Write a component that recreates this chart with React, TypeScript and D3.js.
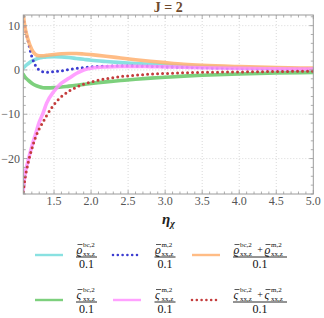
import * as d3 from "d3";
import React from "react";

const W = 324;
const H = 318;
const plot = { left: 23.3, right: 313.3, top: 15, bottom: 194 };

// sample points along eta_chi
const etaValues = [1.085, 1.1, 1.15, 1.2, 1.25, 1.3, 1.35, 1.4, 1.5, 1.6, 1.7, 1.8, 1.9, 2.0, 2.2, 2.4, 2.6, 2.8, 3.0, 3.25, 3.5, 4.0, 4.5, 5.0];

const rhoBc = [0.4, 0.7, 1.4, 2.0, 2.4, 2.7, 2.85, 2.95, 3.0, 2.95, 2.8, 2.6, 2.4, 2.2, 1.9, 1.65, 1.45, 1.25, 1.1, 0.9, 0.75, 0.5, 0.35, 0.25];
const rhoM = [12.0, 10.3, 6.5, 3.0, 1.0, 0.0, -0.4, -0.5, -0.4, -0.2, 0.1, 0.35, 0.55, 0.7, 0.85, 0.9, 0.85, 0.8, 0.7, 0.6, 0.5, 0.35, 0.25, 0.2];
const rhoSum = [12.5, 10.5, 6.8, 4.6, 3.5, 3.2, 3.2, 3.3, 3.5, 3.65, 3.7, 3.7, 3.6, 3.45, 3.1, 2.7, 2.3, 1.95, 1.65, 1.3, 1.05, 0.75, 0.55, 0.4];
const sigBc = [-1.0, -1.4, -2.3, -3.0, -3.5, -3.8, -4.0, -4.05, -4.0, -3.85, -3.65, -3.45, -3.25, -3.05, -2.7, -2.4, -2.1, -1.85, -1.65, -1.4, -1.2, -0.9, -0.7, -0.55];
const sigM = [-27.0, -24.5, -20.5, -17.3, -14.5, -11.8, -9.8, -7.5, -4.8, -3.0, -1.9, -0.8, 0.0, 0.4, 0.7, 0.8, 0.8, 0.75, 0.7, 0.6, 0.5, 0.35, 0.25, 0.2];
const sigSum = [-27.5, -25.5, -21.0, -17.8, -15.2, -13.3, -11.8, -10.3, -7.8, -6.0, -4.8, -3.9, -3.2, -2.7, -2.0, -1.5, -1.2, -0.95, -0.8, -0.65, -0.55, -0.45, -0.35, -0.3];

const xTicks = [1.5, 2.0, 2.5, 3.0, 3.5, 4.0, 4.5, 5.0];
const yTicks = [10, 0, -10, -20];

const series = [
  { values: rhoBc, color: "#74dcdc", dotted: false, sym: "ϱ", sup: ["bc,2"] },
  { values: rhoM, color: "#3c3cd0", dotted: true, sym: "ϱ", sup: ["m,2"] },
  { values: rhoSum, color: "#ffb070", dotted: false, sym: "ϱ", sup: ["bc,2", "m,2"] },
  { values: sigBc, color: "#66c866", dotted: false, sym: "ς", sup: ["bc,2"] },
  { values: sigM, color: "#ff90ff", dotted: false, sym: "ς", sup: ["m,2"] },
  { values: sigSum, color: "#c43c3c", dotted: true, sym: "ς", sup: ["bc,2", "m,2"] },
];

const serif = { fontFamily: "Liberation Serif, serif" };

const x = d3.scaleLinear().domain([1.085, 5.0]).range([plot.left, plot.right]);
const y = d3.scaleLinear().domain([-28, 12.4]).range([plot.bottom, plot.top]);

const Term = ({ x0, base, sym, sup }: { x0: number; base: number; sym: string; sup: string }) => (
  <g style={serif} fill="#111">
    <text x={x0} y={base} fontSize={11.5} fontStyle="italic" style={serif}>{sym}</text>
    <line x1={x0 + 1} x2={x0 + 6} y1={base - 9} y2={base - 9} stroke="#111" strokeWidth={0.7} />
    <text x={x0 + 6.5} y={base - 6.5} fontSize={7} style={serif}>{sup}</text>
    <text x={x0 + 6.5} y={base + 2.3} fontSize={7} style={serif}>xx,z</text>
  </g>
);

const Label = ({ cx, barY, sym, sup }: { cx: number; barY: number; sym: string; sup: string[] }) => {
  const single = sup.length === 1;
  const half = single ? 10.5 : 27;
  const base = barY - 3.5;
  return (
    <g>
      {single ? (
        <Term x0={cx - 10} base={base} sym={sym} sup={sup[0]} />
      ) : (
        <g>
          <Term x0={cx - 26.5} base={base} sym={sym} sup={sup[0]} />
          <text x={cx} y={base - 1} fontSize={10} style={serif} textAnchor="middle" fill="#111">+</text>
          <Term x0={cx + 4.5} base={base} sym={sym} sup={sup[1]} />
        </g>
      )}
      <line x1={cx - half} x2={cx + half} y1={barY} y2={barY} stroke="#111" strokeWidth={0.9} />
      <text x={cx} y={barY + 10.5} fontSize={12} style={serif} textAnchor="middle" fill="#111">0.1</text>
    </g>
  );
};

export default function App() {
  const line = d3
    .line<number>()
    .x((_, i) => x(etaValues[i]))
    .y((d) => y(d))
    .curve(d3.curveMonotoneX);

  const minorX = d3.range(11, 51).map((v) => v / 10).filter((v) => v >= 1.085);
  const minorY = d3.range(-28, 13, 2);

  const legendCols = [
    { lx: 35, cx: 86.5 },
    { lx: 113, cx: 165 },
    { lx: 192, cx: 260 },
  ];
  const legendRows = [257, 302];

  return (
    <svg width={W} height={H} style={{ position: "absolute", left: 0, top: 0, background: "white" }}>
      <defs>
        <clipPath id="plotclip">
          <rect x={plot.left} y={plot.top} width={plot.right - plot.left} height={plot.bottom - plot.top} />
        </clipPath>
      </defs>

      {/* grid */}
      {xTicks.slice(0, -1).map((t) => (
        <line key={"gx" + t} x1={x(t)} x2={x(t)} y1={plot.top} y2={plot.bottom} stroke="#cfcfcf" strokeWidth={0.8} strokeDasharray="1,2" />
      ))}
      {yTicks.map((t) => (
        <line key={"gy" + t} x1={plot.left} x2={plot.right} y1={y(t)} y2={y(t)} stroke="#cfcfcf" strokeWidth={0.8} strokeDasharray="1,2" />
      ))}

      {/* curves */}
      <g clipPath="url(#plotclip)">
        {series.map((s, i) => (
          <path
            key={i}
            d={line(s.values) || ""}
            fill="none"
            stroke={s.color}
            strokeOpacity={s.dotted ? 1 : 0.85}
            strokeWidth={s.dotted ? 3 : 3.6}
            strokeDasharray={s.dotted ? "0,5" : undefined}
            strokeLinecap="round"
          />
        ))}
      </g>

      {/* frame & ticks */}
      <rect x={plot.left} y={plot.top} width={plot.right - plot.left} height={plot.bottom - plot.top} fill="none" stroke="#9a9a9a" strokeWidth={1} />
      {minorX.map((t) => {
        const major = Math.abs(t * 2 - Math.round(t * 2)) < 1e-6;
        const len = major ? 4 : 2.5;
        return (
          <g key={"tx" + t} stroke="#9a9a9a" strokeWidth={0.8}>
            <line x1={x(t)} x2={x(t)} y1={plot.bottom} y2={plot.bottom - len} />
            <line x1={x(t)} x2={x(t)} y1={plot.top} y2={plot.top + len} />
          </g>
        );
      })}
      {minorY.map((t) => {
        const major = t % 10 === 0;
        const len = major ? 4 : 2.5;
        return (
          <g key={"ty" + t} stroke="#9a9a9a" strokeWidth={0.8}>
            <line x1={plot.left} x2={plot.left + len} y1={y(t)} y2={y(t)} />
            <line x1={plot.right} x2={plot.right - len} y1={y(t)} y2={y(t)} />
          </g>
        );
      })}

      {/* tick labels */}
      {xTicks.map((t) => (
        <text key={"lx" + t} x={x(t)} y={205} fontSize={12} style={serif} textAnchor="middle" fill="#555">
          {t.toFixed(1)}
        </text>
      ))}
      {yTicks.map((t) => (
        <text key={"ly" + t} x={20} y={y(t) + 4} fontSize={12} style={serif} textAnchor="end" fill="#555">
          {t < 0 ? "\u2212" + Math.abs(t) : t}
        </text>
      ))}

      {/* title and axis label */}
      <text x={(plot.left + plot.right) / 2} y={11.5} fontSize={14} fontWeight="bold" style={serif} textAnchor="middle" fill="#6e4a2c">
        J = 2
      </text>
      <text x={162} y={224} fontSize={15} fontWeight="bold" fontStyle="italic" style={serif} fill="#222">
        η<tspan fontSize={10} dy={3}>χ</tspan>
      </text>

      {/* legend */}
      {series.map((s, i) => {
        const col = legendCols[i % 3];
        const rowY = legendRows[Math.floor(i / 3)];
        return (
          <g key={"lg" + i}>
            <line
              x1={col.lx}
              x2={col.lx + 28}
              y1={rowY - 2}
              y2={rowY - 2}
              stroke={s.color}
              strokeOpacity={s.dotted ? 1 : 0.85}
              strokeWidth={s.dotted ? 2.6 : 2.4}
              strokeDasharray={s.dotted ? "0,4.8" : undefined}
              strokeLinecap={s.dotted ? "round" : "butt"}
            />
            <Label cx={col.cx} barY={rowY} sym={s.sym} sup={s.sup} />
          </g>
        );
      })}
    </svg>
  );
}
